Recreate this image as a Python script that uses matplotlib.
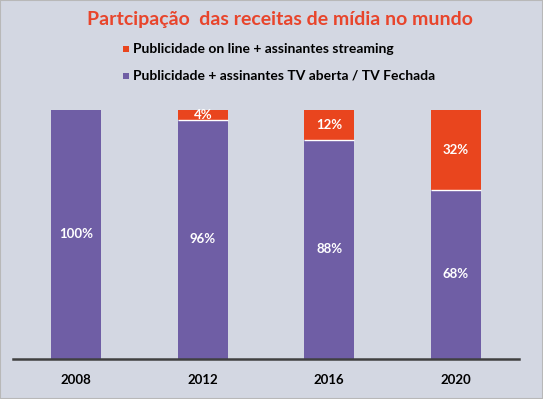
import matplotlib.pyplot as plt
from matplotlib.patches import Rectangle

# Dados
anos = ["2008", "2012", "2016", "2020"]
tv = [100, 96, 88, 68]
online = [0, 4, 12, 32]
rotulo_tv = "Publicidade + assinantes TV aberta / TV Fechada"
rotulo_online = "Publicidade on line + assinantes streaming"
titulo = "Partcipação  das receitas de mídia no mundo"

fundo = "#D3D7E2"
roxo = "#6F5EA5"
laranja = "#E9451E"
fonte = "Lato"
largura = 0.395

W, H = 543, 399
fig = plt.figure(figsize=(W / 100, H / 100), dpi=100, facecolor=fundo)
fig.patches.append(Rectangle((0, 0), 1, 1, transform=fig.transFigure,
                             facecolor="none", edgecolor="#B8B8B8", linewidth=1.5))

# eixo: x de 13 a 519 px, y de 110 (100%) a 359 (0)
ax = fig.add_axes([13 / W, 1 - 359 / H, 506 / W, 249 / H])
ax.set_facecolor(fundo)
x = list(range(len(anos)))
ax.bar(x, tv, width=largura, color=roxo, linewidth=0)
ax.bar(x, online, bottom=tv, width=largura, color=laranja, linewidth=0)

# linha branca entre os segmentos
for i in x:
    if online[i] > 0:
        ax.hlines(tv[i], i - largura / 2, i + largura / 2, color="white", linewidth=1)

for i in x:
    ax.text(i, tv[i] / 2, f"{tv[i]}%", ha="center", va="center", color="white",
            fontsize=9.5, fontweight="bold", family=fonte)
    if online[i] > 0:
        ax.text(i, tv[i] + online[i] / 2, f"{online[i]}%", ha="center", va="center",
                color="white", fontsize=9.5, fontweight="bold", family=fonte)

ax.set_xlim(-0.5, 3.5)
ax.set_ylim(0, 100)
for s in ["top", "right", "left"]:
    ax.spines[s].set_visible(False)
ax.spines["bottom"].set_color("#404040")
ax.spines["bottom"].set_linewidth(1.8)
ax.set_yticks([])
ax.set_xticks(x)
ax.set_xticklabels(anos, fontsize=9.5, fontweight="bold", family=fonte)
ax.tick_params(axis="x", length=0, pad=11)

fig.text(280 / W, 1 - 20 / H, titulo, ha="center", va="center", color="#E8452C",
         fontsize=14, fontweight="bold", family=fonte)

# legenda
for yy, cor, txt in [(49, laranja, rotulo_online), (76, roxo, rotulo_tv)]:
    fig.patches.append(Rectangle((122.5 / W, 1 - (yy + 3) / H), 6 / W, 6 / H,
                                 transform=fig.transFigure, facecolor=cor, edgecolor="none"))
    fig.text(133 / W, 1 - yy / H, txt, ha="left", va="center", color="black",
             fontsize=10, fontweight="bold", family=fonte)

plt.savefig("out.png", dpi=100, facecolor=fundo)
